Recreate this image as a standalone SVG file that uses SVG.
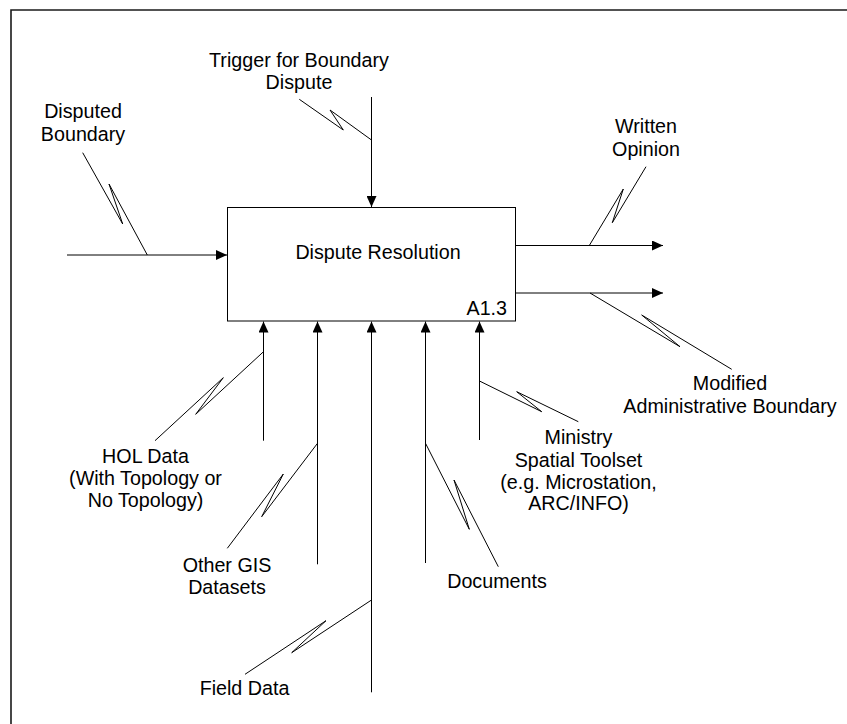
<svg xmlns="http://www.w3.org/2000/svg" width="847" height="724" viewBox="0 0 847 724">
  <style>
    .lbl { font-family: "Liberation Sans", Arial, sans-serif; font-size: 19.7px; fill: #000; text-anchor: middle; }
    .wire { fill: none; stroke: #000; stroke-width: 1; }
    .squig { fill: none; stroke: #000; stroke-width: 1; stroke-linejoin: round; }
    .box { fill: #fff; stroke: #000; stroke-width: 1; }
  </style>
  <defs>
    <marker id="arrow" markerUnits="userSpaceOnUse" markerWidth="11" markerHeight="10" refX="11" refY="5" orient="auto">
      <path d="M0,0 L11,5 L0,10 Z" fill="#000"/>
    </marker>
  </defs>

  <rect width="847" height="724" fill="#fff"/>
  <!-- page frame -->
  <path d="M11,724 V10 H847" fill="none" stroke="#1a1a1a" stroke-width="1.6"/>

  <!-- activity box -->
  <g id="node-a13">
    <rect class="box" x="227.5" y="207.5" width="288" height="113.5"/>
    <text class="lbl" x="378" y="259">Dispute Resolution</text>
    <text class="lbl" x="507" y="315" style="text-anchor:end">A1.3</text>
  </g>

  <!-- arrows and squiggles -->
  <g id="connectors">
    <path class="wire" d="M67,255 H227" marker-end="url(#arrow)"/>
    <path class="wire" d="M371.5,97 V207" marker-end="url(#arrow)"/>
    <path class="wire" d="M515.5,245.5 H663" marker-end="url(#arrow)"/>
    <path class="wire" d="M515.5,293 H663" marker-end="url(#arrow)"/>
    <path class="wire" d="M263.5,440.7 V321.5" marker-end="url(#arrow)"/>
    <path class="wire" d="M317.5,564.3 V321.5" marker-end="url(#arrow)"/>
    <path class="wire" d="M371.5,692.3 V321.5" marker-end="url(#arrow)"/>
    <path class="wire" d="M425.5,563 V321.5" marker-end="url(#arrow)"/>
    <path class="wire" d="M479.5,440 V321.5" marker-end="url(#arrow)"/>

    <path class="squig" d="M82.7,152.7 L122.7,224 L109,184 L147.3,255"/>
    <path class="squig" d="M299.3,99.3 L343.3,130 L330,110 L371.5,140"/>
    <path class="squig" d="M646,166.7 L612.3,222.7 L623.3,189 L589.3,245.5"/>
    <path class="squig" d="M731.7,369.3 L641.7,315 L680,346.7 L590,293"/>
    <path class="squig" d="M578.3,421.7 L516.7,391.7 L541.7,411.7 L479.5,381"/>
    <path class="squig" d="M498.3,566.7 L454,480 L469.3,529.3 L425.5,443.3"/>
    <path class="squig" d="M155,440.7 L223.3,377.7 L195.7,414.3 L263.5,351.7"/>
    <path class="squig" d="M227.3,548.3 L283.3,474 L261.7,516.7 L317.5,443.3"/>
    <path class="squig" d="M245,674.3 L326,620.7 L291.7,652.7 L371.5,600"/>
  </g>

  <!-- arrow labels -->
  <g id="label-disputed-boundary">
    <text class="lbl" x="83" y="118">Disputed</text>
    <text class="lbl" x="83" y="141">Boundary</text>
  </g>
  <g id="label-trigger">
    <text class="lbl" x="299" y="66.7">Trigger for Boundary</text>
    <text class="lbl" x="299" y="88.5">Dispute</text>
  </g>
  <g id="label-written-opinion">
    <text class="lbl" x="646" y="133">Written</text>
    <text class="lbl" x="646" y="156">Opinion</text>
  </g>
  <g id="label-modified-boundary">
    <text class="lbl" x="730" y="390">Modified</text>
    <text class="lbl" x="730" y="413">Administrative Boundary</text>
  </g>
  <g id="label-ministry-toolset">
    <text class="lbl" x="578.5" y="444">Ministry</text>
    <text class="lbl" x="578.5" y="466.5">Spatial Toolset</text>
    <text class="lbl" x="578.5" y="488.5">(e.g. Microstation,</text>
    <text class="lbl" x="578.5" y="510">ARC/INFO)</text>
  </g>
  <g id="label-documents">
    <text class="lbl" x="497" y="588">Documents</text>
  </g>
  <g id="label-hol-data">
    <text class="lbl" x="145.5" y="462.7">HOL Data</text>
    <text class="lbl" x="145.5" y="485">(With Topology or</text>
    <text class="lbl" x="145.5" y="507">No Topology)</text>
  </g>
  <g id="label-other-gis">
    <text class="lbl" x="227" y="571.7">Other GIS</text>
    <text class="lbl" x="227" y="594">Datasets</text>
  </g>
  <g id="label-field-data">
    <text class="lbl" x="244.5" y="695">Field Data</text>
  </g>
</svg>
